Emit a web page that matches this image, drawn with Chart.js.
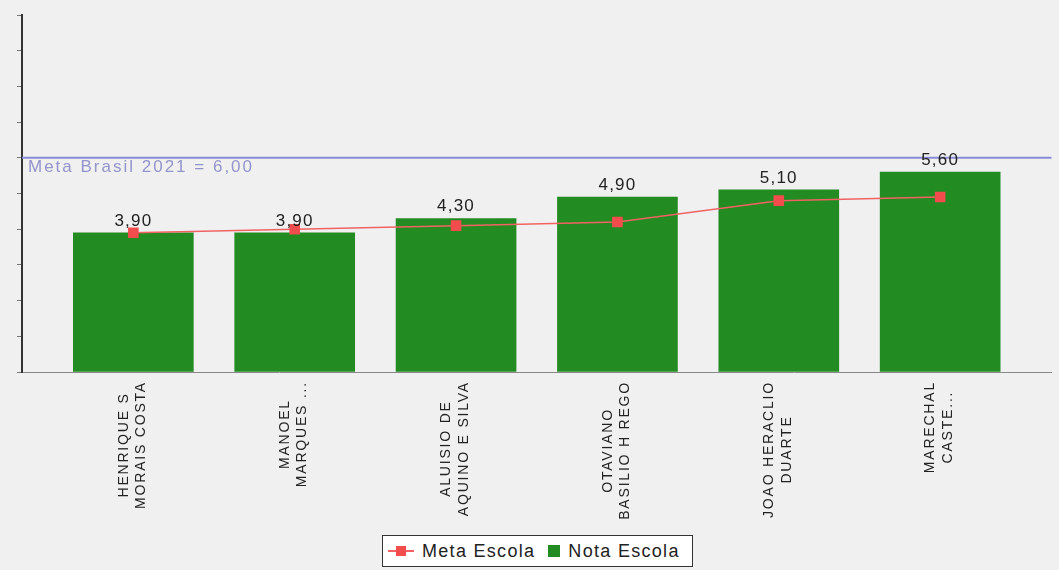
<!DOCTYPE html>
<html>
<head>
<meta charset="utf-8">
<script src="https://cdn.jsdelivr.net/npm/chart.js@4"></script>
<style>
  html, body { margin: 0; padding: 0; background: #f0f0f0; }
  #wrap { position: relative; width: 1059px; height: 570px; }
  #legend {
    position: absolute; left: 382px; top: 535px; width: 309px; height: 30px;
    background: #fff; border: 1px solid #333;
    display: flex; align-items: center;
    font: 18px "Liberation Sans", Arial, sans-serif; letter-spacing: 1.3px; color: #222;
  }
  .swLine { position: relative; width: 26px; height: 12px; margin-left: 5px; }
  .swLine:before { content: ''; position: absolute; left: 0; right: 0; top: 5px; height: 2px; background: #f26262; }
  .swLine:after { content: ''; position: absolute; left: 8px; top: 1px; width: 10px; height: 10px; background: #f24c4c; }
  .swBox { width: 12px; height: 12px; background: #228b22; margin-left: 13px; }
  .txt { margin-left: 8px; }
</style>
</head>
<body>
<div id="wrap">
  <canvas id="chart" width="1059" height="570"></canvas>
  <div id="legend">
    <span class="swLine"></span><span class="txt">Meta Escola</span>
    <span class="swBox"></span><span class="txt">Nota Escola</span>
  </div>
</div>
<script>
// schools (each label split in two lines, as in the original)
const schools = [
    ['HENRIQUE S', 'MORAIS COSTA'],
    ['MANOEL', 'MARQUES ...'],
    ['ALUISIO DE', 'AQUINO E SILVA'],
    ['OTAVIANO', 'BASILIO H REGO'],
    ['JOAO HERACLIO', 'DUARTE'],
    ['MARECHAL', 'CASTE...']
];
const notaEscola = [3.9, 3.9, 4.3, 4.9, 5.1, 5.6];
const metaEscola = [3.9, 4.0, 4.1, 4.2, 4.8, 4.9];
const metaBrasil = 6.0;
const metaBrasilLabel = 'Meta Brasil 2021 = ';
const yMin = 0, yMax = 10, yStep = 1;

const FONT = '"Liberation Sans", Arial, sans-serif';

function fmt(v) {
    return v.toFixed(2).replace('.', ',');
}

// horizontal "Meta Brasil" line with its caption
const metaBrasilLine = {
    id: 'metaBrasilLine',
    beforeDatasetsDraw(chart) {
        const { ctx, chartArea, scales } = chart;
        const py = scales.y.getPixelForValue(metaBrasil);
        ctx.save();
        ctx.strokeStyle = '#8a8ad6';
        ctx.lineWidth = 2;
        ctx.beginPath();
        ctx.moveTo(chartArea.left, py);
        ctx.lineTo(chartArea.right, py);
        ctx.stroke();
        ctx.font = '17px ' + FONT;
        ctx.letterSpacing = '2px';
        ctx.fillStyle = '#9494cc';
        ctx.textAlign = 'left';
        ctx.textBaseline = 'alphabetic';
        ctx.fillText(metaBrasilLabel + fmt(metaBrasil), chartArea.left + 6, py + 14);
        ctx.restore();
    }
};

// values above the bars
const barValues = {
    id: 'barValues',
    afterDatasetsDraw(chart) {
        const { ctx } = chart;
        const meta = chart.getDatasetMeta(1);
        ctx.save();
        ctx.font = '17px ' + FONT;
        ctx.letterSpacing = '1.2px';
        ctx.fillStyle = '#222';
        ctx.textAlign = 'center';
        ctx.textBaseline = 'alphabetic';
        meta.data.forEach((bar, i) => {
            ctx.fillText(fmt(notaEscola[i]), bar.x, bar.y - 7);
        });
        ctx.restore();
    }
};

// rotated school names, lines centred on each other
const schoolLabels = {
    id: 'schoolLabels',
    afterDraw(chart) {
        const { ctx, chartArea, scales } = chart;
        ctx.save();
        ctx.font = '14px ' + FONT;
        ctx.letterSpacing = '1.8px';
        ctx.fillStyle = '#222';
        ctx.textAlign = 'center';
        ctx.textBaseline = 'alphabetic';
        schools.forEach((lines, i) => {
            const px = scales.x.getPixelForValue(i) - 2;
            const maxW = Math.max(...lines.map(l => ctx.measureText(l).width));
            const cy = chartArea.bottom + 9 + maxW / 2;
            lines.forEach((line, j) => {
                const cx = px + (j - (lines.length - 1) / 2) * 17.5;
                ctx.save();
                ctx.translate(cx, cy);
                ctx.rotate(-Math.PI / 2);
                ctx.fillText(line, 0, 5);
                ctx.restore();
            });
        });
        ctx.restore();
    }
};

new Chart(document.getElementById('chart'), {
    type: 'bar',
    data: {
        datasets: [
            {
                type: 'line',
                label: 'Meta Escola',
                data: metaEscola.map((v, i) => ({ x: i, y: v })),
                borderColor: '#f26262',
                borderWidth: 1.5,
                pointStyle: 'rect',
                pointRadius: 7.5,
                pointBackgroundColor: '#f24c4c',
                pointBorderWidth: 0,
                tension: 0
            },
            {
                type: 'bar',
                label: 'Nota Escola',
                data: notaEscola.map((v, i) => ({ x: i, y: v })),
                backgroundColor: '#228b22',
                barThickness: 120
            }
        ]
    },
    options: {
        responsive: false,
        animation: false,
        layout: { padding: { top: 15, right: 4, left: 0, bottom: 0 } },
        plugins: {
            legend: { display: false },
            tooltip: { enabled: false }
        },
        scales: {
            x: {
                type: 'linear',
                offset: false,
                min: -0.69,
                max: 5.69,
                ticks: { display: false, stepSize: 1 },
                grid: { display: false, offset: false },
                border: { color: '#888', width: 1 },
                afterFit(scale) { scale.height = 198; }
            },
            y: {
                min: yMin,
                max: yMax,
                ticks: { display: false, stepSize: yStep },
                grid: { drawOnChartArea: false, tickLength: 5, color: '#777' },
                border: { color: '#333', width: 2 },
                afterFit(scale) { scale.width = 22; }
            }
        }
    },
    plugins: [metaBrasilLine, barValues, schoolLabels]
});
</script>
</body>
</html>
